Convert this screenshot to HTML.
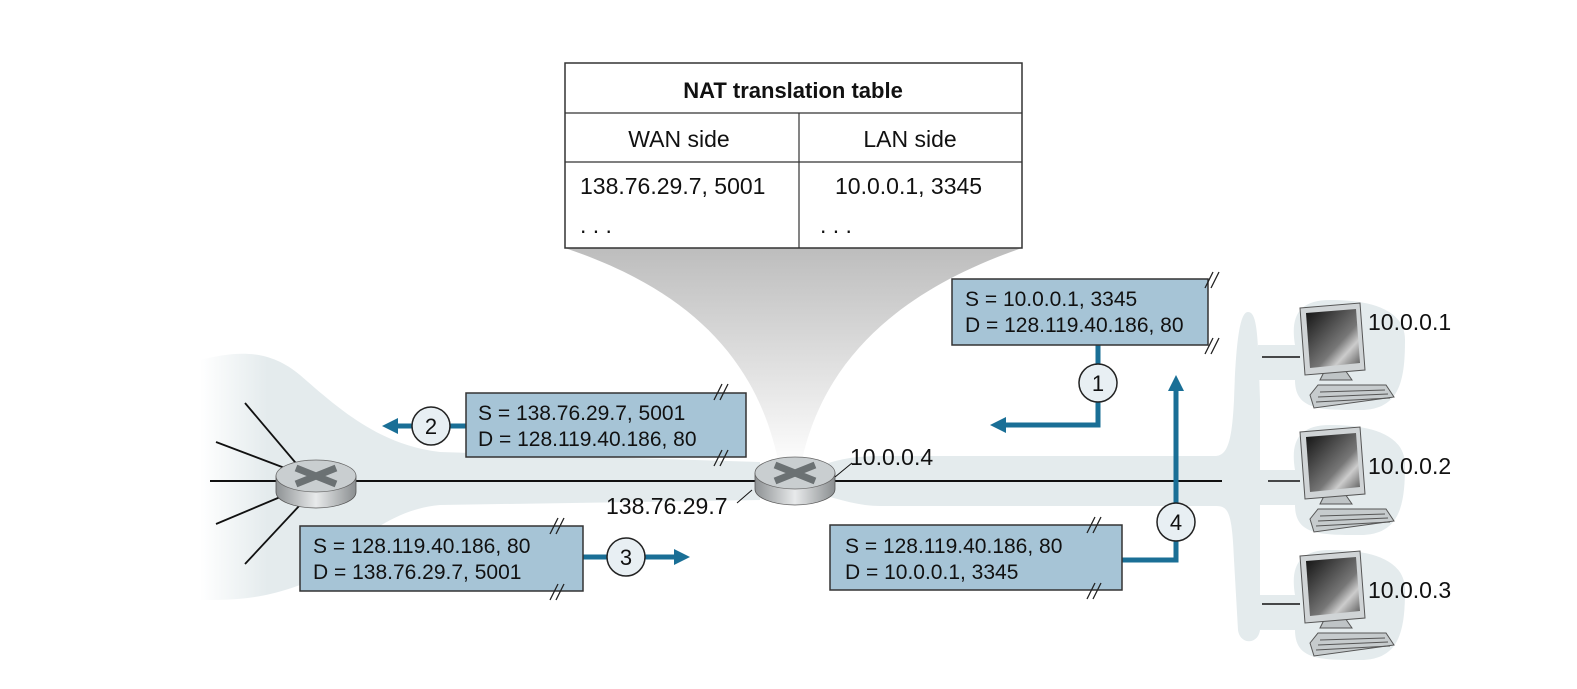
<!DOCTYPE html>
<html><head><meta charset="utf-8"><style>
html,body{margin:0;padding:0;background:#fff;}
svg{display:block;font-family:"Liberation Sans",sans-serif;}
</style></head><body>
<svg width="1577" height="689" viewBox="0 0 1577 689" xmlns="http://www.w3.org/2000/svg">
<defs>
<linearGradient id="fun" x1="0" y1="0" x2="0" y2="1">
<stop offset="0" stop-color="#bdbdbd"/><stop offset="1" stop-color="#ffffff"/>
</linearGradient>
<linearGradient id="leftfade" x1="0" y1="0" x2="1" y2="0">
<stop offset="0" stop-color="#ffffff"/><stop offset="0.12" stop-color="#e4ebed"/><stop offset="1" stop-color="#e4ebed"/>
</linearGradient>
<linearGradient id="rside" x1="0" y1="0" x2="1" y2="0">
<stop offset="0" stop-color="#8e9294"/><stop offset="0.5" stop-color="#e8eaeb"/><stop offset="1" stop-color="#8a8e90"/>
</linearGradient>
<linearGradient id="scr" x1="0" y1="0" x2="1" y2="1">
<stop offset="0" stop-color="#111"/><stop offset="0.6" stop-color="#777"/><stop offset="0.75" stop-color="#ccc"/><stop offset="1" stop-color="#555"/>
</linearGradient>
</defs>

<path d="M565 248 L1022 248 C900 290 820 360 800 470 L780 470 C760 360 690 290 565 248 Z" fill="url(#fun)"/>

<path d="M200 360 C240 350 270 350 300 375 C340 410 380 445 440 452 L760 462 L760 500 L440 505 C380 510 340 560 300 585 C260 600 230 600 200 600 Z" fill="url(#leftfade)"/>
<path d="M820 466 C840 458 860 456 880 456 L1215 456 C1228 456 1232 440 1234 400 C1236 340 1240 312 1248 312 C1258 312 1258 340 1260 400 L1260 630 C1258 645 1240 645 1238 630 L1234 560 C1232 510 1228 506 1215 506 L880 506 C860 506 840 500 820 494 Z" fill="#e4ebed"/>
<g fill="#e4ebed">
<path d="M1258 345 L1295 345 C1290 315 1300 300 1330 300 C1360 300 1405 305 1405 340 C1405 380 1400 410 1360 410 C1320 410 1295 410 1295 380 L1258 380 Z"/>
<path d="M1258 470 L1295 470 C1290 440 1300 425 1330 425 C1360 425 1405 430 1405 465 C1405 505 1400 535 1360 535 C1320 535 1295 535 1295 505 L1258 505 Z"/>
<path d="M1258 595 L1295 595 C1290 565 1300 550 1330 550 C1360 550 1405 555 1405 590 C1405 630 1400 660 1360 660 C1320 660 1295 660 1295 630 L1258 630 Z"/>
</g>

<rect x="565" y="63" width="457" height="185" fill="#fff" stroke="#333" stroke-width="1.5"/>
<line x1="565" y1="113" x2="1022" y2="113" stroke="#333" stroke-width="1.2"/>
<line x1="565" y1="162" x2="1022" y2="162" stroke="#333" stroke-width="1.2"/>
<line x1="799" y1="113" x2="799" y2="248" stroke="#333" stroke-width="1.2"/>
<text x="793" y="98" font-size="22" font-weight="bold" text-anchor="middle" fill="#111">NAT translation table</text>
<text x="679" y="147" font-size="23" text-anchor="middle" fill="#111">WAN side</text>
<text x="910" y="147" font-size="23" text-anchor="middle" fill="#111">LAN side</text>
<text x="580" y="194" font-size="23" fill="#111">138.76.29.7, 5001</text>
<text x="835" y="194" font-size="23" fill="#111">10.0.0.1, 3345</text>
<text x="580" y="233" font-size="23" fill="#111">. . .</text>
<text x="820" y="233" font-size="23" fill="#111">. . .</text>

<line x1="210" y1="481" x2="1222" y2="481" stroke="#111" stroke-width="2"/>
<line x1="1262" y1="357" x2="1300" y2="357" stroke="#111" stroke-width="1.5"/>
<line x1="1268" y1="481" x2="1300" y2="481" stroke="#111" stroke-width="1.5"/>
<line x1="1262" y1="604" x2="1300" y2="604" stroke="#111" stroke-width="1.5"/>
<g stroke="#111" stroke-width="1.8">
<line x1="245" y1="403" x2="300" y2="468"/>
<line x1="216" y1="442" x2="290" y2="470"/>
<line x1="216" y1="524" x2="285" y2="495"/>
<line x1="245" y1="564" x2="300" y2="505"/>
</g>

<g>
<path d="M276 476 L276 492 A40 16 0 0 0 356 492 L356 476 Z" fill="url(#rside)" stroke="#555" stroke-width="0.8"/>
<ellipse cx="316" cy="476" rx="40" ry="16" fill="#c9ced0" stroke="#666" stroke-width="0.8"/>
<path d="M296 468 L336 484 M336 468 L296 484" stroke="#6b7173" stroke-width="7"/>
</g>
<g>
<path d="M755 473 L755 489 A40 16 0 0 0 835 489 L835 473 Z" fill="url(#rside)" stroke="#555" stroke-width="0.8"/>
<ellipse cx="795" cy="473" rx="40" ry="16" fill="#c9ced0" stroke="#666" stroke-width="0.8"/>
<path d="M775 465 L815 481 M815 465 L775 481" stroke="#6b7173" stroke-width="7"/>
</g>
<line x1="835" y1="477" x2="852" y2="463" stroke="#111" stroke-width="1"/>
<line x1="752" y1="490" x2="737" y2="503" stroke="#111" stroke-width="1"/>
<text x="850" y="465" font-size="23" fill="#111">10.0.0.4</text>
<text x="606" y="514" font-size="23" fill="#111">138.76.29.7</text>

<g stroke="#1a6f96" stroke-width="5" fill="none">
<line x1="466" y1="426" x2="395" y2="426"/>
<line x1="583" y1="557" x2="677" y2="557"/>
<polyline points="1098,345 1098,425 1003,425"/>
<polyline points="1122,560 1176,560 1176,390"/>
</g>
<g fill="#1a6f96">
<polygon points="382,426 398,418 398,434"/>
<polygon points="690,557 674,549 674,565"/>
<polygon points="990,425 1006,417 1006,433"/>
<polygon points="1176,375 1168,391 1184,391"/>
</g>
<g fill="#e8eff3" stroke="#222" stroke-width="1.5">
<circle cx="431" cy="426" r="19"/>
<circle cx="626" cy="557" r="19"/>
<circle cx="1098" cy="383" r="19"/>
<circle cx="1176" cy="522" r="19"/>
</g>
<g font-size="22" text-anchor="middle" fill="#111">
<text x="431" y="434">2</text>
<text x="626" y="565">3</text>
<text x="1098" y="391">1</text>
<text x="1176" y="530">4</text>
</g>

<g fill="#a6c4d6" stroke="#333" stroke-width="1.5">
<rect x="466" y="393" width="280" height="64"/>
<rect x="300" y="526" width="283" height="65"/>
<rect x="952" y="279" width="256" height="66"/>
<rect x="830" y="525" width="292" height="65"/>
</g>
<g font-size="21" fill="#111">
<text x="478" y="420">S = 138.76.29.7, 5001</text>
<text x="478" y="446">D = 128.119.40.186, 80</text>
<text x="313" y="553">S = 128.119.40.186, 80</text>
<text x="313" y="579">D = 138.76.29.7, 5001</text>
<text x="965" y="306">S = 10.0.0.1, 3345</text>
<text x="965" y="332">D = 128.119.40.186, 80</text>
<text x="845" y="553">S = 128.119.40.186, 80</text>
<text x="845" y="579">D = 10.0.0.1, 3345</text>
</g>
<g stroke="#222" stroke-width="1.3">
<path d="M714 400 L722 384 M720 400 L728 384"/><path d="M714 466 L722 450 M720 466 L728 450"/>
<path d="M550 534 L558 518 M556 534 L564 518"/><path d="M550 600 L558 584 M556 600 L564 584"/>
<path d="M1205 288 L1213 272 M1211 288 L1219 272"/><path d="M1205 354 L1213 338 M1211 354 L1219 338"/>
<path d="M1087 533 L1095 517 M1093 533 L1101 517"/><path d="M1087 599 L1095 583 M1093 599 L1101 583"/>
</g>

<g id="host">
<path d="M1310 395 L1318 385 L1386 385 L1394 397 L1314 408 Z" fill="#c6cbcd" stroke="#555" stroke-width="1"/>
<g stroke="#555" stroke-width="1"><line x1="1320" y1="392" x2="1385" y2="390"/><line x1="1318" y1="397" x2="1388" y2="394"/><line x1="1316" y1="402" x2="1390" y2="398"/></g>
<path d="M1320 380 L1325 370 L1345 370 L1352 380 Z" fill="#bfc4c6" stroke="#555" stroke-width="1"/>
<path d="M1300 308 L1360 303 L1365 370 L1305 375 Z" fill="#d0d4d6" stroke="#555" stroke-width="1"/>
<path d="M1306 313 L1356 309 L1360 363 L1310 368 Z" fill="url(#scr)"/>
</g>
<use href="#host" transform="translate(0,124)"/>
<use href="#host" transform="translate(0,248)"/>
<g font-size="23" fill="#111">
<text x="1368" y="330">10.0.0.1</text>
<text x="1368" y="474">10.0.0.2</text>
<text x="1368" y="598">10.0.0.3</text>
</g>
</svg>
</body></html>
